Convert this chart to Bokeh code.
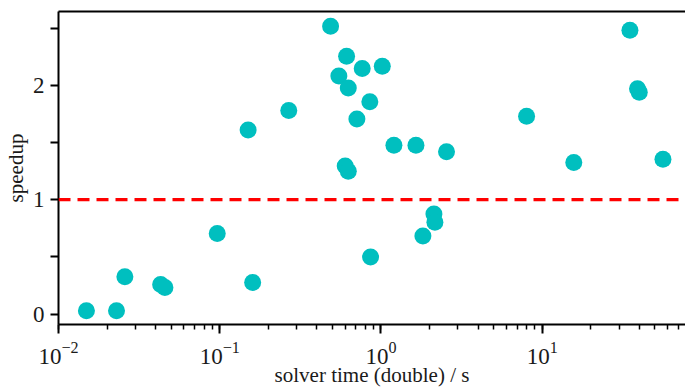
from bokeh.plotting import figure
from bokeh.models import Range1d, FixedTicker, LinearAxis, Span, LogTicker
from bokeh.embed import file_html
from bokeh.resources import INLINE

solver_time = [0.0149, 0.0229, 0.0258, 0.043, 0.0457, 0.0965, 0.150, 0.160,
               0.268, 0.487, 0.612, 0.548, 0.627, 0.765, 1.019, 0.853, 0.709,
               1.203, 1.648, 2.55, 0.600, 0.627, 2.13, 2.16, 1.82, 0.862,
               8.0, 15.7, 35.0, 39.0, 40.0, 56.1]
speedup = [0.03, 0.03, 0.326, 0.259, 0.233, 0.705, 1.61, 0.277,
           1.779, 2.516, 2.254, 2.082, 1.977, 2.146, 2.166, 1.857, 1.706,
           1.475, 1.475, 1.42, 1.295, 1.248, 0.875, 0.802, 0.682, 0.499,
           1.729, 1.326, 2.481, 1.97, 1.94, 1.353]
y_ticks = [0, 1, 2]
y_minor = [0.5, 1.5, 2.5]
ref_level = 1.0
x_lo, x_hi = 0.01, 77.4
y_lo, y_hi = -0.091, 2.645

FONT = "Liberation Serif"

p = figure(width=685, height=389, x_axis_type="log", output_backend="svg",
           toolbar_location=None,
           x_range=Range1d(x_lo, x_hi), y_range=Range1d(y_lo, y_hi),
           min_border_left=0, min_border_right=0, min_border_top=11,
           min_border_bottom=0)
p.grid.visible = False
p.outline_line_color = None
p.background_fill_color = "white"

p.scatter(solver_time, speedup, size=17, color="#00BFBF", line_color=None)

p.add_layout(Span(location=ref_level, dimension="width", line_color="red",
                  line_width=3.3, line_dash="12 7"))

xa = p.xaxis[0]
xa.ticker = LogTicker(num_minor_ticks=10)
xa.axis_label = "solver time (double) / s"
xa.axis_line_width = 2
xa.major_tick_line_width = 2
xa.minor_tick_line_width = 1.5
xa.major_tick_out = 9
xa.major_tick_in = 0
xa.minor_tick_out = 5
xa.minor_tick_in = 0
xa.major_label_text_font = FONT
xa.major_label_text_font_size = "23px"
xa.major_label_text_color = "#1a1a1a"
xa.axis_label_text_font = FONT
xa.axis_label_text_font_size = "21px"
xa.axis_label_text_font_style = "normal"
xa.axis_label_text_color = "#1a1a1a"
xa.axis_label_standoff = -4
xa.major_label_standoff = 8

ya = p.yaxis[0]
ya.ticker = FixedTicker(ticks=y_ticks, minor_ticks=y_minor)
ya.axis_label = "speedup"
ya.axis_line_width = 2
ya.major_tick_line_width = 2
ya.minor_tick_line_width = 2
ya.major_tick_out = 8
ya.major_tick_in = 0
ya.minor_tick_out = 8
ya.minor_tick_in = 0
ya.major_label_text_font = FONT
ya.major_label_text_font_size = "23px"
ya.major_label_text_color = "#1a1a1a"
ya.axis_label_text_font = FONT
ya.axis_label_text_font_size = "21px"
ya.axis_label_text_font_style = "normal"
ya.axis_label_text_color = "#1a1a1a"
ya.axis_label_standoff = 2
ya.major_label_standoff = 6

top = LinearAxis(ticker=FixedTicker(ticks=[0]), axis_line_width=2,
                 major_tick_out=0, major_tick_in=0, minor_tick_out=0,
                 minor_tick_in=0, major_label_text_font_size="1px",
                 major_label_text_alpha=0, major_label_standoff=0)
p.add_layout(top, "above")

open("out.html", "w").write(file_html(p, INLINE))
